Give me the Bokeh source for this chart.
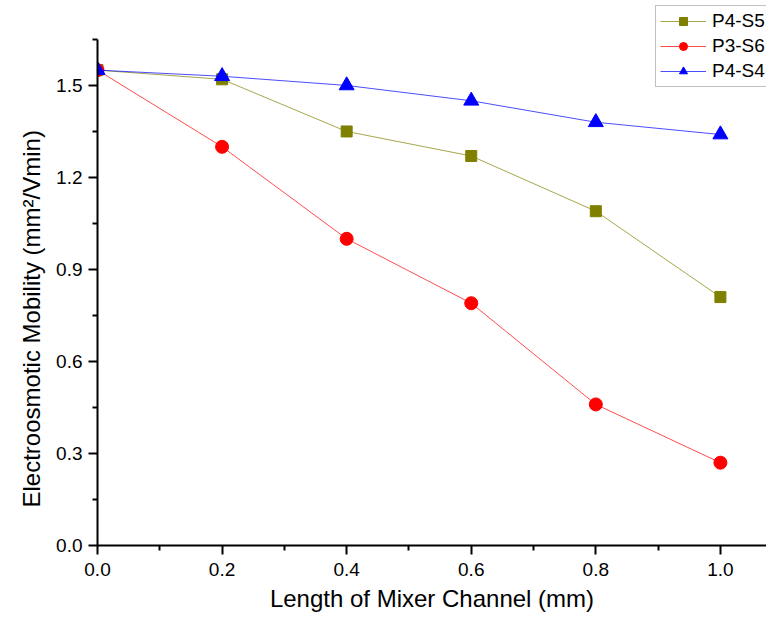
from bokeh.plotting import figure
from bokeh.models import FixedTicker, PrintfTickFormatter, Range1d, Legend, LegendItem, Title
from bokeh.embed import file_html
from bokeh.resources import INLINE

x = [0.0, 0.2, 0.4, 0.6, 0.8, 1.0]
p4_s5 = [1.55, 1.52, 1.35, 1.27, 1.09, 0.81]
p3_s6 = [1.55, 1.30, 1.00, 0.79, 0.46, 0.27]
p4_s4 = [1.55, 1.53, 1.50, 1.45, 1.38, 1.34]

x_ticks = [0.0, 0.2, 0.4, 0.6, 0.8, 1.0]
x_minor = [0.1, 0.3, 0.5, 0.7, 0.9]
y_ticks = [0.0, 0.3, 0.6, 0.9, 1.2, 1.5]
y_minor = [0.15, 0.45, 0.75, 1.05, 1.35, 1.65]

FONT = "Liberation Sans"

p = figure(width=766, height=615, output_backend="svg", toolbar_location=None,
           x_range=Range1d(0, 1.074), y_range=Range1d(0, 1.777),
           min_border_left=97, min_border_right=0, min_border_top=0, min_border_bottom=70)
p.outline_line_color = None
p.grid.visible = False
p.background_fill_color = "white"

r1 = p.line(x, p4_s5, line_color="#808000", line_width=1, line_alpha=0.7)
m1 = p.scatter(x, p4_s5, marker="square", size=11, fill_color="#808000", line_color="#808000")
r2 = p.line(x, p3_s6, line_color="#FF0000", line_width=1, line_alpha=0.7)
m2 = p.scatter(x, p3_s6, marker="circle", size=13, fill_color="#FF0000", line_color="#FF0000")
r3 = p.line(x, p4_s4, line_color="#0000FF", line_width=1, line_alpha=0.7)
m3 = p.scatter(x, p4_s4, marker="triangle", size=15, fill_color="#0000FF", line_color="#0000FF")

for ax in (p.xaxis[0], p.yaxis[0]):
    ax.axis_line_width = 2
    ax.axis_line_color = "black"
    ax.major_tick_line_width = 2
    ax.minor_tick_line_width = 2
    ax.major_tick_in = 0
    ax.major_tick_out = 9
    ax.minor_tick_in = 0
    ax.minor_tick_out = 5
    ax.major_label_text_font = FONT
    ax.major_label_text_font_size = "19px"
    ax.major_label_text_color = "black"
    ax.axis_label_text_font = FONT
    ax.axis_label_text_font_style = "normal"
    ax.axis_label_text_color = "black"
    ax.formatter = PrintfTickFormatter(format="%.1f")

p.yaxis[0].bounds = (0, 1.65)
p.xaxis[0].ticker = FixedTicker(ticks=x_ticks, minor_ticks=x_minor)
p.yaxis[0].ticker = FixedTicker(ticks=y_ticks, minor_ticks=y_minor)
p.xaxis[0].axis_label = "Length of Mixer Channel (mm)"
p.xaxis[0].axis_label_text_font_size = "24px"
p.xaxis[0].major_label_standoff = 8
p.xaxis[0].axis_label_standoff = 6
p.yaxis[0].major_label_standoff = 6

ylab = Title(text="Electroosmotic Mobility (mm²/Vmin)", align="left", offset=38,
             text_font=FONT, text_font_size="24px", text_font_style="normal",
             text_color="black", standoff=17)
p.add_layout(ylab, "left")

legend = Legend(items=[
    LegendItem(label="P4-S5", renderers=[r1, m1]),
    LegendItem(label="P3-S6", renderers=[r2, m2]),
    LegendItem(label="P4-S4", renderers=[r3, m3]),
], location=(558, 458))
legend.label_text_font = FONT
legend.label_text_font_size = "19px"
legend.label_text_color = "black"
legend.glyph_width = 46
legend.glyph_height = 20
legend.label_standoff = 6
legend.spacing = 3
legend.padding = 4
legend.margin = 0
legend.border_line_color = "#808080"
legend.border_line_width = 1
legend.background_fill_alpha = 1
p.add_layout(legend, "center")

open("out.html", "w").write(file_html(p, INLINE))
